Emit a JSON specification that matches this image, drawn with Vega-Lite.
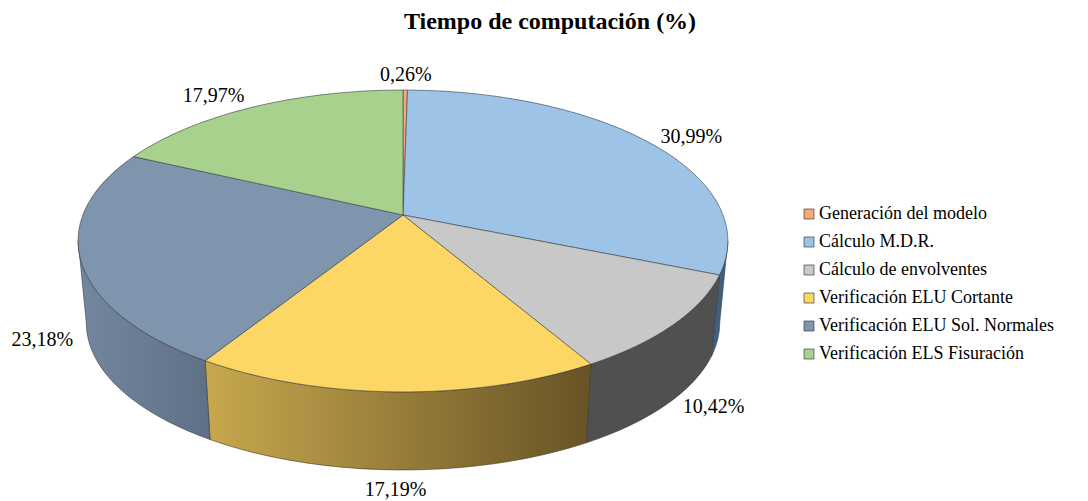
{
"$schema":"https://vega.github.io/schema/vega-lite/v6.json",
"autosize":{"type":"none"},
"padding":{"left":0,"top":44,"right":0,"bottom":0},
"width":1088,"height":457,
"background":"white",
"title":{"text":"Tiempo de computación (%)","font":"Liberation Serif","fontSize":24,"fontWeight":"bold","color":"#000000","anchor":"middle","frame":"group","dx":6,"offset":10},
"config":{"view":{"stroke":null}},
"data":{"values":[
{"tarea":"Generación del modelo","valor":0.26},
{"tarea":"Cálculo M.D.R.","valor":30.99},
{"tarea":"Cálculo de envolventes","valor":10.42},
{"tarea":"Verificación ELU Cortante","valor":17.19},
{"tarea":"Verificación ELU Sol. Normales","valor":23.18},
{"tarea":"Verificación ELS Fisuración","valor":17.97}
]},
"transform":[
{"window":[{"op":"sum","field":"valor","as":"acum"}]},
{"calculate":"403","as":"cx"},
{"calculate":"215","as":"cy"},
{"calculate":"(datum.acum-datum.valor)/100.01*2*PI","as":"a1"},
{"calculate":"datum.acum/100.01*2*PI","as":"a2"},
{"calculate":"round(3200*sin(datum.a1)/(1+0.172*cos(datum.a1)))/10","as":"x1"},
{"calculate":"round(-1465*cos(datum.a1)/(1+0.172*cos(datum.a1)))/10","as":"y1"},
{"calculate":"round(3200*sin(datum.a2)/(1+0.172*cos(datum.a2)))/10","as":"x2"},
{"calculate":"round(-1465*cos(datum.a2)/(1+0.172*cos(datum.a2)))/10","as":"y2"},
{"calculate":"'M0,0 L'+datum.x1+','+datum.y1+' A325,151 0 '+((datum.a2-datum.a1)>PI?1:0)+' 1 '+datum.x2+','+datum.y2+' Z'","as":"cara"},
{"calculate":"clamp(datum.a1,1.744,4.539)","as":"b1"},
{"calculate":"clamp(datum.a2,1.744,4.539)","as":"b2"},
{"calculate":"round(3200*sin(datum.b1)/(1+0.172*cos(datum.b1)))/10","as":"sx1"},
{"calculate":"round(-1465*cos(datum.b1)/(1+0.172*cos(datum.b1)))/10","as":"sy1"},
{"calculate":"round(3200*sin(datum.b2)/(1+0.172*cos(datum.b2)))/10","as":"sx2"},
{"calculate":"round(-1465*cos(datum.b2)/(1+0.172*cos(datum.b2)))/10","as":"sy2"},
{"calculate":"'M'+datum.sx1+','+datum.sy1+' A325,151 0 0 1 '+datum.sx2+','+datum.sy2+' L'+(round(9.75*datum.sx2)/10)+','+(round(824+9.75*datum.sy2)/10)+' A317,147.2 0 0 0 '+(round(9.75*datum.sx1)/10)+','+(round(824+9.75*datum.sy1)/10)+' Z'","as":"lateral"},
{"calculate":"(datum.a1+datum.a2)/2","as":"am"},
{"calculate":"320*sin(datum.am)/(1+0.172*cos(datum.am))","as":"mx"},
{"calculate":"-146.5*cos(datum.am)/(1+0.172*cos(datum.am))","as":"my"},
{"calculate":"403+(cos(datum.am)>0?datum.mx:0.975*datum.mx)+(cos(datum.am)>0?44:46)*clamp(1.7*sin(datum.am),-1,1)","as":"lx"},
{"calculate":"215+(cos(datum.am)>0?datum.my-15*pow(cos(datum.am),2):82.4+0.975*datum.my+20*pow(cos(datum.am),4))","as":"ly"},
{"calculate":"replace(format(datum.valor,'.2f'),'.',',')+'%'","as":"etiqueta"}
],
"encoding":{
"x":{"field":"cx","type":"quantitative","scale":{"domain":[0,1088],"nice":false,"zero":false},"axis":null},
"y":{"field":"cy","type":"quantitative","scale":{"domain":[501,44],"nice":false,"zero":false},"axis":null}
},
"layer":[
{"transform":[{"filter":"datum.tarea==='Cálculo M.D.R.'"}],
"mark":{"type":"point","filled":true,"size":4,"opacity":1,"stroke":"#33404d","strokeWidth":0.6,"fill":"#3f5f80"},
"encoding":{"shape":{"field":"lateral","type":"nominal","scale":null}}},
{"transform":[{"filter":"datum.tarea==='Cálculo de envolventes'"}],
"mark":{"type":"point","filled":true,"size":4,"opacity":1,"stroke":"#3a3a3a","strokeWidth":0.6,"fill":"#505050"},
"encoding":{"shape":{"field":"lateral","type":"nominal","scale":null}}},
{"transform":[{"filter":"datum.tarea==='Verificación ELU Cortante'"}],
"mark":{"type":"point","filled":true,"size":4,"opacity":1,"stroke":"#3f3418","strokeWidth":0.6,"fill":{"gradient":"linear","x1":0,"y1":0,"x2":1,"y2":0,"stops":[{"offset":0,"color":"#c8a84e"},{"offset":1,"color":"#675326"}]}},
"encoding":{"shape":{"field":"lateral","type":"nominal","scale":null}}},
{"transform":[{"filter":"datum.tarea==='Verificación ELU Sol. Normales'"}],
"mark":{"type":"point","filled":true,"size":4,"opacity":1,"stroke":"#333d4a","strokeWidth":0.6,"fill":{"gradient":"linear","x1":0,"y1":0,"x2":1,"y2":0,"stops":[{"offset":0,"color":"#74879f"},{"offset":1,"color":"#5f7086"}]}},
"encoding":{"shape":{"field":"lateral","type":"nominal","scale":null}}},
{"mark":{"type":"point","filled":true,"size":4,"opacity":1,"stroke":"#3a3f45","strokeWidth":0.6},
"encoding":{
"shape":{"field":"cara","type":"nominal","scale":null},
"color":{"field":"tarea","type":"nominal",
"scale":{"domain":["Generación del modelo","Cálculo M.D.R.","Cálculo de envolventes","Verificación ELU Cortante","Verificación ELU Sol. Normales","Verificación ELS Fisuración"],"range":["#f4a97c","#9dc3e6","#c8c8c8","#fcd765","#7f95ae","#a9d18e"]},
"legend":{"title":null,"orient":"none","legendX":800,"legendY":161,"symbolType":"square","symbolSize":100,"symbolStrokeColor":"#404040","symbolStrokeWidth":0.7,"labelFont":"Liberation Serif","labelFontSize":18,"labelColor":"#000000","labelLimit":300,"rowPadding":10,"labelOffset":1,"symbolOpacity":1}}
}},
{"mark":{"type":"text","font":"Liberation Serif","fontSize":20,"color":"#000000","align":"center","baseline":"middle"},
"encoding":{
"x":{"field":"lx","type":"quantitative"},
"y":{"field":"ly","type":"quantitative"},
"text":{"field":"etiqueta","type":"nominal"}
}}
]
}
